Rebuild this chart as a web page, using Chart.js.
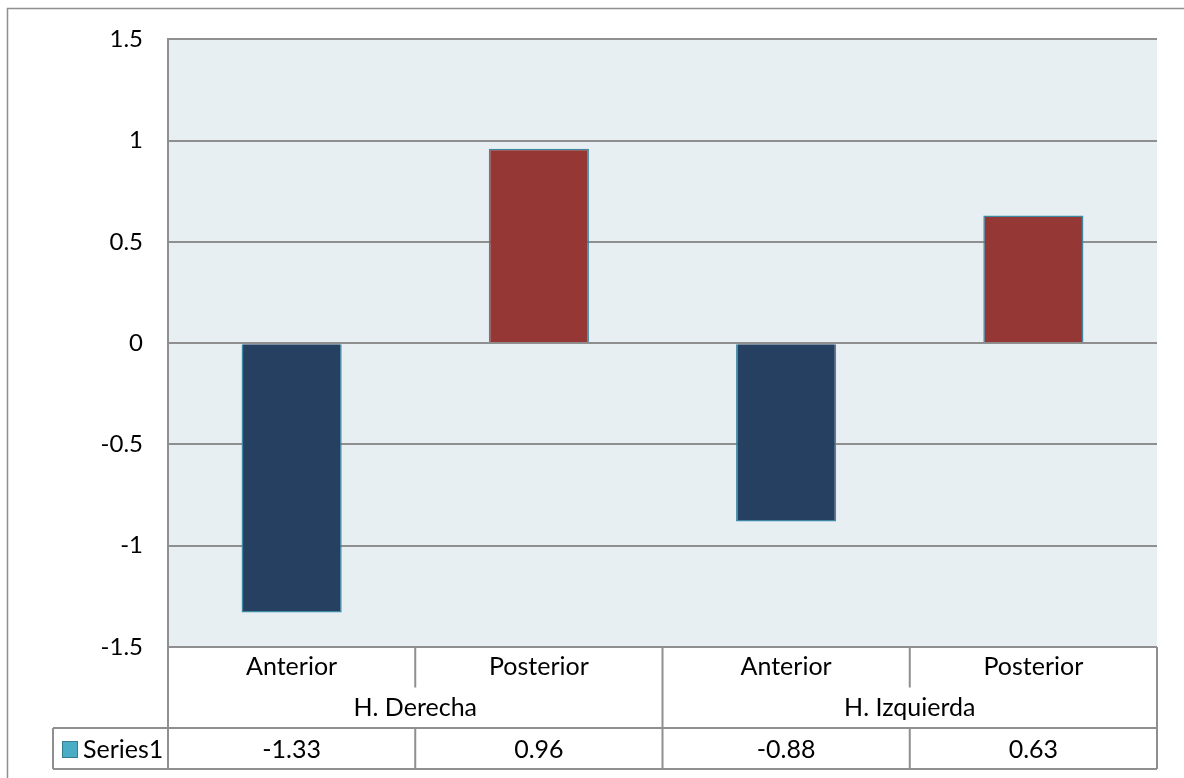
<!DOCTYPE html>
<html>
<head>
<meta charset="utf-8">
<script src="https://cdn.jsdelivr.net/npm/chart.js@4"></script>
<style>
  html, body { margin: 0; padding: 0; background: #ffffff; }
  #wrap { width: 1184px; height: 778px; position: relative; }
</style>
</head>
<body>
<div id="wrap"><canvas id="c" width="1184" height="778"></canvas></div>
<script>
// Categories, groups and values
const categories = ['Anterior', 'Posterior', 'Anterior', 'Posterior'];
const groups = ['H. Derecha', 'H. Izquierda'];
const groupSpans = [2, 2];
const seriesName = 'Series1';
const seriesValues = [-1.33, 0.96, -0.88, 0.63];
const tableValues = ['-1.33', '0.96', '-0.88', '0.63'];
const yTickValues = [1.5, 1, 0.5, 0, -0.5, -1, -1.5];

const FONT = 'Lato, "Open Sans", sans-serif';
const GRID = '#8f8f8f';
const barFills = ['#264061', '#953735', '#264061', '#953735'];

// Plot-area background and outer frame
const backdrop = {
  id: 'backdrop',
  beforeDraw(chart) {
    const { ctx, chartArea: a } = chart;
    ctx.save();
    ctx.fillStyle = '#e8eff3';
    ctx.fillRect(a.left, a.top, a.right - a.left, a.bottom - a.top);
    ctx.strokeStyle = '#8f8f8f';
    ctx.lineWidth = 1.5;
    ctx.beginPath();
    ctx.moveTo(7.5, chart.height);
    ctx.lineTo(7.5, 8.5);
    ctx.lineTo(chart.width, 8.5);
    ctx.stroke();
    ctx.restore();
  }
};

// Data table below the plot
const dataTable = {
  id: 'dataTable',
  afterDraw(chart) {
    const { ctx, chartArea: a } = chart;
    const n = categories.length;
    const cw = (a.right - a.left) / n;
    const r0 = a.bottom, r1 = r0 + 40.5, r2 = r1 + 40.5, r3 = r2 + 41;
    const keyLeft = 53;
    ctx.save();
    ctx.strokeStyle = GRID;
    ctx.lineWidth = 2;
    const line = (x1, y1, x2, y2) => {
      ctx.beginPath(); ctx.moveTo(x1, y1); ctx.lineTo(x2, y2); ctx.stroke();
    };
    // horizontal rules
    line(a.left, r0, a.right, r0);
    line(keyLeft, r2, a.right, r2);
    line(keyLeft, r3, a.right, r3);
    // outer verticals
    line(a.left, r0, a.left, r3);
    line(a.right, r0, a.right, r3);
    line(keyLeft, r2, keyLeft, r3);
    // category dividers inside groups
    let idx = 0;
    groupSpans.forEach((span, g) => {
      for (let k = 1; k < span; k++) {
        const x = a.left + (idx + k) * cw;
        line(x, r0, x, r1);
      }
      idx += span;
      if (g < groupSpans.length - 1) {
        const x = a.left + idx * cw;
        line(x, r0, x, r2);
      }
    });
    // value row dividers
    for (let i = 1; i < n; i++) {
      const x = a.left + i * cw;
      line(x, r2, x, r3);
    }

    ctx.fillStyle = '#000000';
    ctx.font = '25px ' + FONT;
    ctx.textAlign = 'center';
    ctx.textBaseline = 'middle';
    categories.forEach((c, i) => {
      const x = chart.scales.x.getPixelForValue(i);
      ctx.fillText(c, x, (r0 + r1) / 2);
      ctx.fillText(tableValues[i], x, (r2 + r3) / 2 + 1);
    });
    idx = 0;
    groups.forEach((g, j) => {
      const x = a.left + (idx + groupSpans[j] / 2) * cw;
      ctx.fillText(g, x, (r1 + r2) / 2);
      idx += groupSpans[j];
    });

    // legend key and series name
    ctx.fillStyle = '#4bacc6';
    ctx.strokeStyle = '#357d91';
    ctx.lineWidth = 1;
    ctx.fillRect(62, r2 + 13, 15, 16);
    ctx.strokeRect(62.5, r2 + 13.5, 15, 16);
    ctx.fillStyle = '#000000';
    ctx.textAlign = 'left';
    ctx.fillText(seriesName, 83, (r2 + r3) / 2 + 1);
    ctx.restore();
  }
};

new Chart(document.getElementById('c'), {
  type: 'bar',
  data: {
    labels: categories,
    datasets: [{
      label: seriesName,
      data: seriesValues,
      backgroundColor: barFills,
      borderColor: '#3f88a4',
      borderWidth: 1.5,
      barPercentage: 0.405,
      categoryPercentage: 1
    }]
  },
  options: {
    responsive: false,
    animation: false,
    devicePixelRatio: 1,
    layout: { padding: { left: 0, top: 38, right: 27, bottom: 131 } },
    plugins: {
      legend: { display: false },
      tooltip: { enabled: false }
    },
    scales: {
      x: { display: false, offset: true },
      y: {
        min: -1.5,
        max: 1.5,
        afterFit(scale) { scale.width = 168; },
        afterBuildTicks(scale) { scale.ticks = yTickValues.map(v => ({ value: v })); },
        ticks: {
          padding: 25,
          color: '#000000',
          font: { family: FONT, size: 24 },
          callback: v => String(v)
        },
        grid: { color: GRID, lineWidth: 2, drawTicks: false },
        border: { display: true, color: GRID, width: 2 }
      }
    }
  },
  plugins: [backdrop, dataTable]
});
</script>
</body>
</html>
